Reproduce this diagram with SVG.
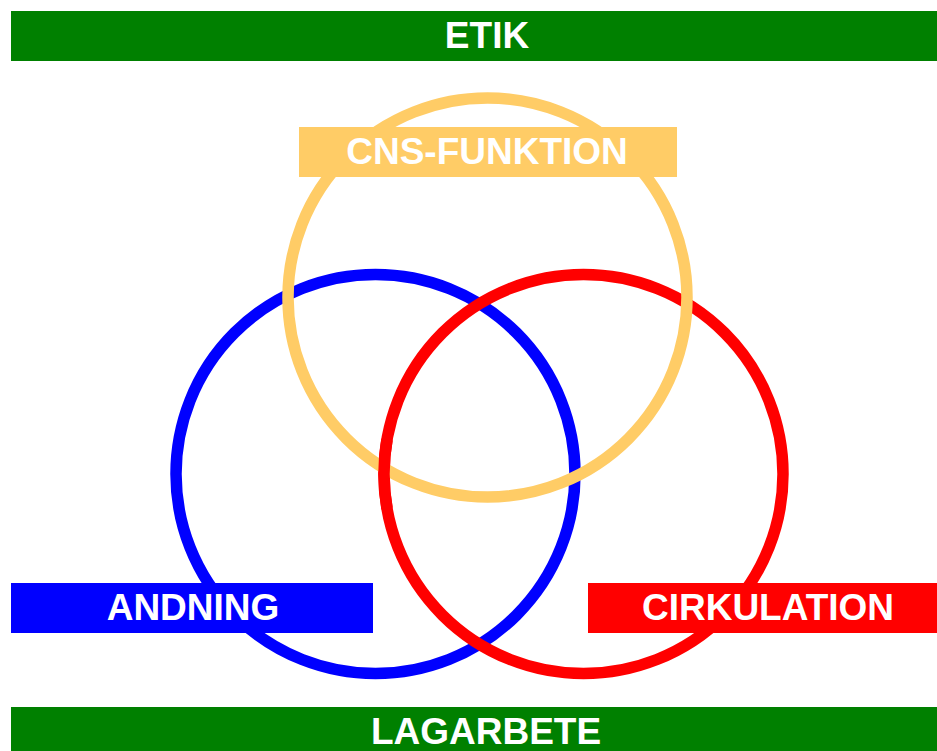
<svg xmlns="http://www.w3.org/2000/svg" width="937" height="751" viewBox="0 0 937 751">
<style>
.lbl{font-family:"Liberation Sans",Arial,sans-serif;font-weight:bold;font-size:37px;fill:#FFFFFF;text-anchor:middle}
.ring{fill:none;stroke-width:11.5}
</style>
<rect x="0" y="0" width="937" height="751" fill="#FFFFFF"/>
<g id="etik">
<rect x="11" y="11" width="926" height="50" fill="#008000"/>
<text class="lbl" x="487" y="48">ETIK</text>
</g>
<g id="lagarbete">
<rect x="11" y="707" width="926" height="44" fill="#008000"/>
<text class="lbl" x="486" y="744">LAGARBETE</text>
</g>
<g id="circles">
<circle id="andning-ring" class="ring" cx="375.5" cy="474" r="199.5" stroke="#0000FF"/>
<circle id="cirkulation-ring" class="ring" cx="583.5" cy="474" r="199.5" stroke="#FF0000"/>
<circle id="cns-ring" class="ring" cx="487.5" cy="297.5" r="199.5" stroke="#FFCC66"/>
<path class="ring" d="M387,439.4 A199.5,199.5 0 0 0 387,508.6" stroke="#FF0000"/>
</g>
<g id="cns">
<rect x="299" y="127" width="378" height="50" fill="#FFCC66"/>
<text class="lbl" x="487" y="164">CNS-FUNKTION</text>
</g>
<g id="andning">
<rect x="11" y="583" width="362" height="50" fill="#0000FF"/>
<text class="lbl" x="193" y="620">ANDNING</text>
</g>
<g id="cirkulation">
<rect x="588" y="583" width="349" height="50" fill="#FF0000"/>
<text class="lbl" x="768" y="620">CIRKULATION</text>
</g>
</svg>
